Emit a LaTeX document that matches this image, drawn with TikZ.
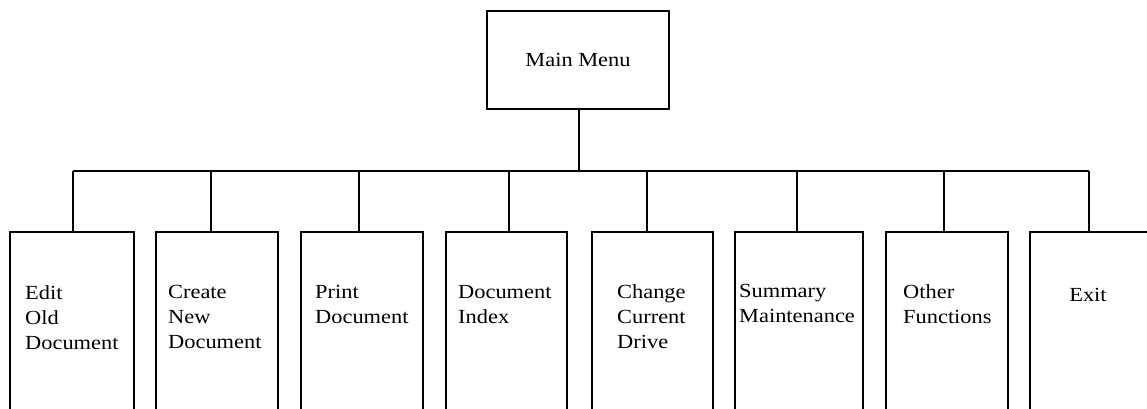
\documentclass[tikz,border=0pt]{standalone}
\usepackage{fontspec}
\setmainfont[FakeStretch=1.12]{Liberation Serif}
\begin{document}
\begin{tikzpicture}[x=1pt,y=-1pt,
  box/.style={draw,line width=1.5pt,rectangle,inner sep=0pt},
  lbl/.style={inner sep=0pt,align=left,font=\fontsize{20}{25}\selectfont,execute at begin node=\strut},
  wire/.style={line width=1.5pt}]
\clip (0,0) rectangle (1147,408);
\node[box,minimum width=182pt,minimum height=98pt,font=\fontsize{20}{25}\selectfont] (main) at (578,60) {Main Menu};
% boxes
\node[box,minimum width=124pt,minimum height=200pt,anchor=north west] (b1) at (9,231) {};
\node[box,minimum width=122pt,minimum height=200pt,anchor=north west] (b2) at (155,231) {};
\node[box,minimum width=122pt,minimum height=200pt,anchor=north west] (b3) at (300,231) {};
\node[box,minimum width=121pt,minimum height=200pt,anchor=north west] (b4) at (445,231) {};
\node[box,minimum width=121pt,minimum height=200pt,anchor=north west] (b5) at (591,231) {};
\node[box,minimum width=128pt,minimum height=200pt,anchor=north west] (b6) at (734,231) {};
\node[box,minimum width=122pt,minimum height=200pt,anchor=north west] (b7) at (885,231) {};
\node[box,minimum width=130pt,minimum height=200pt,anchor=north west] (b8) at (1029,231) {};
% labels
\node[lbl,anchor=north west] (t1) at (25,285) {Edit\\Old\\Document};
\node[lbl,anchor=north west] (t2) at (168,285) {Create\\New\\Document};
\node[lbl,anchor=north west] (t3) at (315,285) {Print\\Document};
\node[lbl,anchor=north west] (t4) at (458,285) {Document\\Index};
\node[lbl,anchor=north west] (t5) at (617,284) {Change\\Current\\Drive};
\node[lbl,anchor=north west] (t6) at (739,284) {Summary\\Maintenance};
\node[lbl,anchor=north west] (t7) at (903,284) {Other\\Functions};
\node[lbl,anchor=north] (t8) at (1088,284) {Exit};
% connectors
\coordinate (bus) at (579,171);
\coordinate (s1) at ([xshift=1pt]b1.north);
\coordinate (s2) at ([xshift=-6pt]b2.north);
\coordinate (s3) at ([xshift=-3pt]b3.north);
\coordinate (s4) at ([xshift=2.5pt]b4.north);
\coordinate (s5) at ([xshift=-5.5pt]b5.north);
\coordinate (s6) at ([xshift=-2pt]b6.north);
\coordinate (s7) at ([xshift=-3pt]b7.north);
\coordinate (s8) at ([xshift=-6pt]b8.north);
\draw[wire] (main.south -| bus) -- (bus);
\draw[wire] (s1 |- bus) -- (s8 |- bus);
\foreach \i in {1,...,8} {
  \draw[wire] (s\i |- bus) -- (s\i);
}
\end{tikzpicture}
\end{document}
